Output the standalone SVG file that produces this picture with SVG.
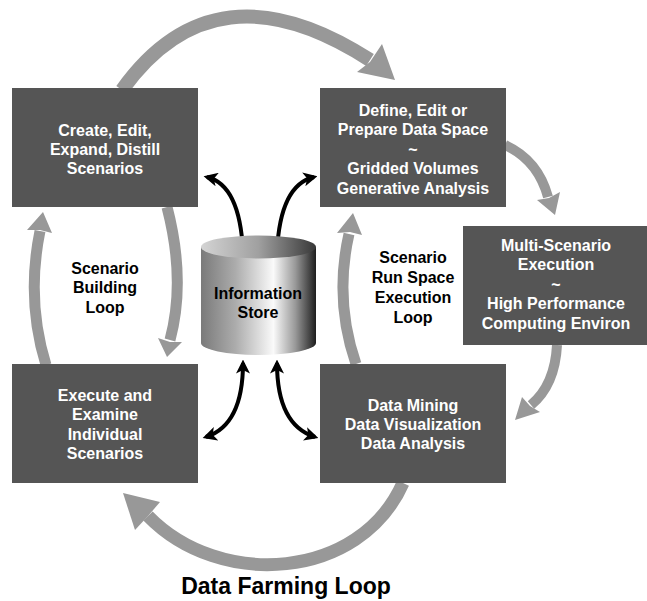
<svg xmlns="http://www.w3.org/2000/svg" width="647" height="601" viewBox="0 0 647 601">
<defs>
<style>
.box{fill:#555555;}
.bt{font-family:"Liberation Sans",Arial,sans-serif;font-weight:bold;font-size:16px;fill:#ffffff;text-anchor:middle;}
.lt{font-family:"Liberation Sans",Arial,sans-serif;font-weight:bold;font-size:16px;fill:#000000;text-anchor:middle;}
.g{fill:none;stroke:#989898;}
.gh{fill:#989898;}
.k{fill:none;stroke:#000000;stroke-width:4;marker-start:url(#ah);marker-end:url(#ah);}
</style>
<marker id="ah" viewBox="0 0 12 12" refX="9" refY="6" markerWidth="3.5" markerHeight="3.5" orient="auto-start-reverse" markerUnits="strokeWidth">
<path d="M0,0 L12,6 L0,12 L3,6 Z" fill="#000000"/>
</marker>
<linearGradient id="body" x1="0" y1="0" x2="1" y2="0">
<stop offset="0" stop-color="#7a7a7a"/>
<stop offset="0.3" stop-color="#acacac"/>
<stop offset="0.63" stop-color="#fafafa"/>
<stop offset="0.82" stop-color="#999999"/>
<stop offset="1" stop-color="#1e1e1e"/>
</linearGradient>
<linearGradient id="top" x1="0" y1="0" x2="1" y2="0">
<stop offset="0" stop-color="#d4d4d4"/>
<stop offset="0.5" stop-color="#a0a0a0"/>
<stop offset="1" stop-color="#383838"/>
</linearGradient>
</defs>
<rect width="647" height="601" fill="#ffffff"/>

<g id="connectors">
<path class="g" stroke-width="14" d="M122,90 Q215,-40 370,60"/>
<polygon class="gh" points="382,44 395,80 357,72 370,62"/>
<path class="g" stroke-width="10" d="M505,145 Q538,160 548,197"/>
<polygon class="gh" points="537,200 555,215 560,192 549,198"/>
<path class="g" stroke-width="10" d="M557,345 Q555,385 531,405"/>
<polygon class="gh" points="522,397 515,420 540,412 530,406"/>
<path class="g" stroke-width="13" d="M403,483 C360,580 220,590 148,516"/>
<polygon class="gh" points="135,530 123,493 160,502 148,516"/>
<path class="g" stroke-width="11" d="M46,365 Q26,300 40,231"/>
<polygon class="gh" points="27,230 43,212 52,233 40,230"/>
<path class="g" stroke-width="11" d="M167,207 Q186,280 170,340"/>
<polygon class="gh" points="158,338 167,357 182,342 170,342"/>
<path class="g" stroke-width="11" d="M356,364 Q334,300 349,234"/>
<polygon class="gh" points="337,233 353,213 362,235 350,232"/>
<path class="k" d="M207,177 Q240,185 243,252"/>
<path class="k" d="M314,177 Q280,185 277,252"/>
<path class="k" d="M243,363 Q243,425 206,437"/>
<path class="k" d="M277,363 Q277,425 315,437"/>
</g>

<g id="store">
<path d="M201,247 L201,343 A57.5,12 0 0 0 316,343 L316,247 Z" fill="url(#body)"/>
<ellipse cx="258.5" cy="247" rx="57.5" ry="11.5" fill="url(#top)"/>
<text class="lt" x="258" y="299">Information</text>
<text class="lt" x="258" y="318">Store</text>
</g>

<g id="create">
<rect class="box" x="12" y="88" width="186" height="119"/>
<text class="bt" x="105" y="136">Create, Edit,</text>
<text class="bt" x="105" y="155">Expand, Distill</text>
<text class="bt" x="105" y="174">Scenarios</text>
</g>

<g id="define">
<rect class="box" x="320" y="88" width="186" height="119"/>
<text class="bt" x="413" y="116">Define, Edit or</text>
<text class="bt" x="413" y="135">Prepare Data Space</text>
<text class="bt" x="413" y="155">~</text>
<text class="bt" x="413" y="174">Gridded Volumes</text>
<text class="bt" x="413" y="194">Generative Analysis</text>
</g>

<g id="multi">
<rect class="box" x="463" y="226" width="184" height="119"/>
<text class="bt" x="556" y="251">Multi-Scenario</text>
<text class="bt" x="556" y="270">Execution</text>
<text class="bt" x="556" y="290">~</text>
<text class="bt" x="556" y="309">High Performance</text>
<text class="bt" x="556" y="329">Computing Environ</text>
</g>

<g id="execute">
<rect class="box" x="12" y="364" width="186" height="119"/>
<text class="bt" x="105" y="401">Execute and</text>
<text class="bt" x="105" y="420">Examine</text>
<text class="bt" x="105" y="440">Individual</text>
<text class="bt" x="105" y="459">Scenarios</text>
</g>

<g id="mining">
<rect class="box" x="320" y="364" width="186" height="119"/>
<text class="bt" x="413" y="411">Data Mining</text>
<text class="bt" x="413" y="430">Data Visualization</text>
<text class="bt" x="413" y="449">Data Analysis</text>
</g>

<g id="labels">
<text class="lt" x="105" y="274">Scenario</text>
<text class="lt" x="105" y="293">Building</text>
<text class="lt" x="105" y="313">Loop</text>
<text class="lt" x="413" y="263">Scenario</text>
<text class="lt" x="413" y="283">Run Space</text>
<text class="lt" x="413" y="303">Execution</text>
<text class="lt" x="413" y="323">Loop</text>
<text class="lt" x="286" y="594" style="font-size:23px">Data Farming Loop</text>
</g>
</svg>
